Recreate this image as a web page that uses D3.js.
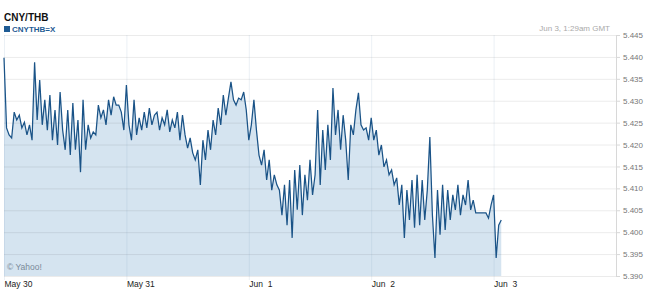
<!DOCTYPE html>
<html>
<head>
<meta charset="utf-8">
<script src="https://cdn.jsdelivr.net/npm/d3@7/dist/d3.min.js"></script>
<style>
  body { margin: 0; background: #fff; }
  svg { display: block; }
  text { font-family: "Liberation Sans", Arial, sans-serif; }
</style>
</head>
<body>
<svg id="chart" width="648" height="304"></svg>
<script>
// x axis days and labels
const dayLabels = ['May 30', 'May 31', 'Jun  1', 'Jun  2', 'Jun  3'];
const yTicks = [5.390, 5.395, 5.400, 5.405, 5.410, 5.415, 5.420, 5.425, 5.430, 5.435, 5.440, 5.445];

// CNY/THB, one reading every 30 minutes from May 30 00:00 GMT
const rates = [
  // May 30
  5.4398, 5.4238, 5.4222, 5.4215, 5.4274, 5.4256, 5.4267, 5.4238, 5.4251, 5.4222, 5.4245, 5.4210,
  5.4388, 5.4256, 5.4347, 5.4245, 5.4302, 5.4233, 5.4313, 5.4210, 5.4279, 5.4199, 5.4320, 5.4233,
  5.4188, 5.4279, 5.4176, 5.4295, 5.4188, 5.4256, 5.4137, 5.4302, 5.4188, 5.4245, 5.4215, 5.4229,
  5.4222, 5.4290, 5.4261, 5.4279, 5.4245, 5.4302, 5.4267, 5.4309, 5.4290, 5.4290, 5.4274, 5.4233,
  // May 31
  5.4336, 5.4245, 5.4210, 5.4302, 5.4222, 5.4261, 5.4233, 5.4274, 5.4238, 5.4283, 5.4245, 5.4267,
  5.4274, 5.4233, 5.4261, 5.4245, 5.4279, 5.4229, 5.4256, 5.4238, 5.4274, 5.4210, 5.4267, 5.4222,
  5.4192, 5.4215, 5.4181, 5.4165, 5.4188, 5.4108, 5.4210, 5.4165, 5.4233, 5.4188, 5.4256, 5.4222,
  5.4283, 5.4245, 5.4313, 5.4267, 5.4306, 5.4343, 5.4302, 5.4290, 5.4306, 5.4302, 5.4320, 5.4279,
  // Jun 1
  5.4210, 5.4245, 5.4302, 5.4233, 5.4176, 5.4153, 5.4188, 5.4119, 5.4165, 5.4096, 5.4131, 5.4108,
  5.4096, 5.4039, 5.4108, 5.4016, 5.4119, 5.3987, 5.4142, 5.4051, 5.4153, 5.4039, 5.4131, 5.4073,
  5.4165, 5.4085, 5.4131, 5.4279, 5.4108, 5.4233, 5.4142, 5.4245, 5.4165, 5.4329, 5.4222, 5.4279,
  5.4188, 5.4267, 5.4210, 5.4119, 5.4245, 5.4222, 5.4279, 5.4318, 5.4245, 5.4233, 5.4238, 5.4210,
  // Jun 2
  5.4261, 5.4210, 5.4233, 5.4176, 5.4199, 5.4149, 5.4165, 5.4131, 5.4142, 5.4108, 5.4124, 5.4062,
  5.4108, 5.3987, 5.4096, 5.4028, 5.4119, 5.4010, 5.4131, 5.4016, 5.4119, 5.4028, 5.4096, 5.4217,
  5.4039, 5.3941, 5.4096, 5.3994, 5.4108, 5.4005, 5.4096, 5.4028, 5.4085, 5.4051, 5.4108, 5.4039,
  5.4085, 5.4062, 5.4119, 5.4051, 5.4073, 5.4044, 5.4044, 5.4044, 5.4044, 5.4044, 5.4032, 5.4062,
  // Jun 3
  5.4085, 5.3941, 5.4016, 5.4028
];

const start = Date.UTC(2013, 4, 30);
const halfHour = 30 * 60 * 1000;
const data = rates.map((v, i) => ({ t: new Date(start + i * halfHour), v: v }));
const days = dayLabels.map((d, i) => new Date(start + i * 48 * halfHour));

const plotLeft = 4, plotRight = 616, plotTop = 35, plotBottom = 276;

const svg = d3.select('#chart');

const x = d3.scaleUtc()
  .domain([new Date(start), new Date(start + 5 * 48 * halfHour)])
  .range([plotLeft, plotRight]);

const y = d3.scaleLinear()
  .domain([5.390, 5.445])
  .range([plotBottom, plotTop]);

// area under the line
svg.append('path')
  .datum(data)
  .attr('fill', '#d5e4f0')
  .attr('d', d3.area().x(d => x(d.t)).y0(plotBottom).y1(d => y(d.v)));

// horizontal grid
svg.append('g')
  .attr('transform', `translate(${plotRight},0)`)
  .call(d3.axisLeft(y).tickValues(yTicks).tickSize(plotRight - plotLeft).tickFormat(''))
  .call(g => g.select('.domain').remove())
  .call(g => g.selectAll('line').attr('stroke', '#000').attr('stroke-opacity', 0.08));

// vertical grid
svg.append('g')
  .attr('transform', `translate(0,${plotBottom + 4})`)
  .call(d3.axisTop(x).tickValues(days).tickSize(plotBottom + 4 - plotTop).tickFormat(''))
  .call(g => g.select('.domain').remove())
  .call(g => g.selectAll('line').attr('stroke', '#6f94b5').attr('stroke-opacity', 0.14));

// the rate line
svg.append('path')
  .datum(data)
  .attr('fill', 'none')
  .attr('stroke', '#1a5387')
  .attr('stroke-width', 1.25)
  .attr('d', d3.line().x(d => x(d.t)).y(d => y(d.v)));

// right axis
const yAxis = svg.append('g')
  .attr('transform', `translate(${plotRight},0)`)
  .call(d3.axisRight(y).tickValues(yTicks).tickSize(4).tickPadding(3).tickFormat(d3.format('.3f')));
yAxis.select('.domain').attr('stroke', '#d8d8d8').attr('d', `M0.5,${plotTop}V${plotBottom}`);
yAxis.selectAll('line').attr('stroke', '#d8d8d8');
yAxis.selectAll('text')
  .attr('fill', '#777')
  .style('font-size', '8px');

// bottom axis labels
const xAxis = svg.append('g')
  .attr('transform', `translate(0,${plotBottom})`)
  .call(d3.axisBottom(x).tickValues(days).tickSize(0).tickPadding(0).tickFormat((d, i) => dayLabels[i]));
xAxis.select('.domain').remove();
xAxis.selectAll('text')
  .attr('fill', '#222')
  .attr('text-anchor', 'start')
  .attr('y', 11)
  .attr('dy', 0)
  .style('font-size', '8.5px')
  .style('white-space', 'pre');

// titles
svg.append('text')
  .attr('x', 4).attr('y', 21)
  .attr('fill', '#111')
  .style('font-size', '10px')
  .style('font-weight', 'bold')
  .text('CNY/THB');

svg.append('rect')
  .attr('x', 4).attr('y', 26).attr('width', 6).attr('height', 6)
  .attr('fill', '#1f5b94');

svg.append('text')
  .attr('x', 12).attr('y', 32)
  .attr('fill', '#1f5b94')
  .style('font-size', '8px')
  .style('font-weight', 'bold')
  .text('CNYTHB=X');

svg.append('text')
  .attr('x', 610).attr('y', 31)
  .attr('text-anchor', 'end')
  .attr('fill', '#aaa')
  .style('font-size', '8px')
  .text('Jun 3, 1:29am GMT');

svg.append('text')
  .attr('x', 7).attr('y', 270)
  .attr('fill', '#7a8a99')
  .style('font-size', '8.5px')
  .text('\u00a9 Yahoo!');
</script>
</body>
</html>
